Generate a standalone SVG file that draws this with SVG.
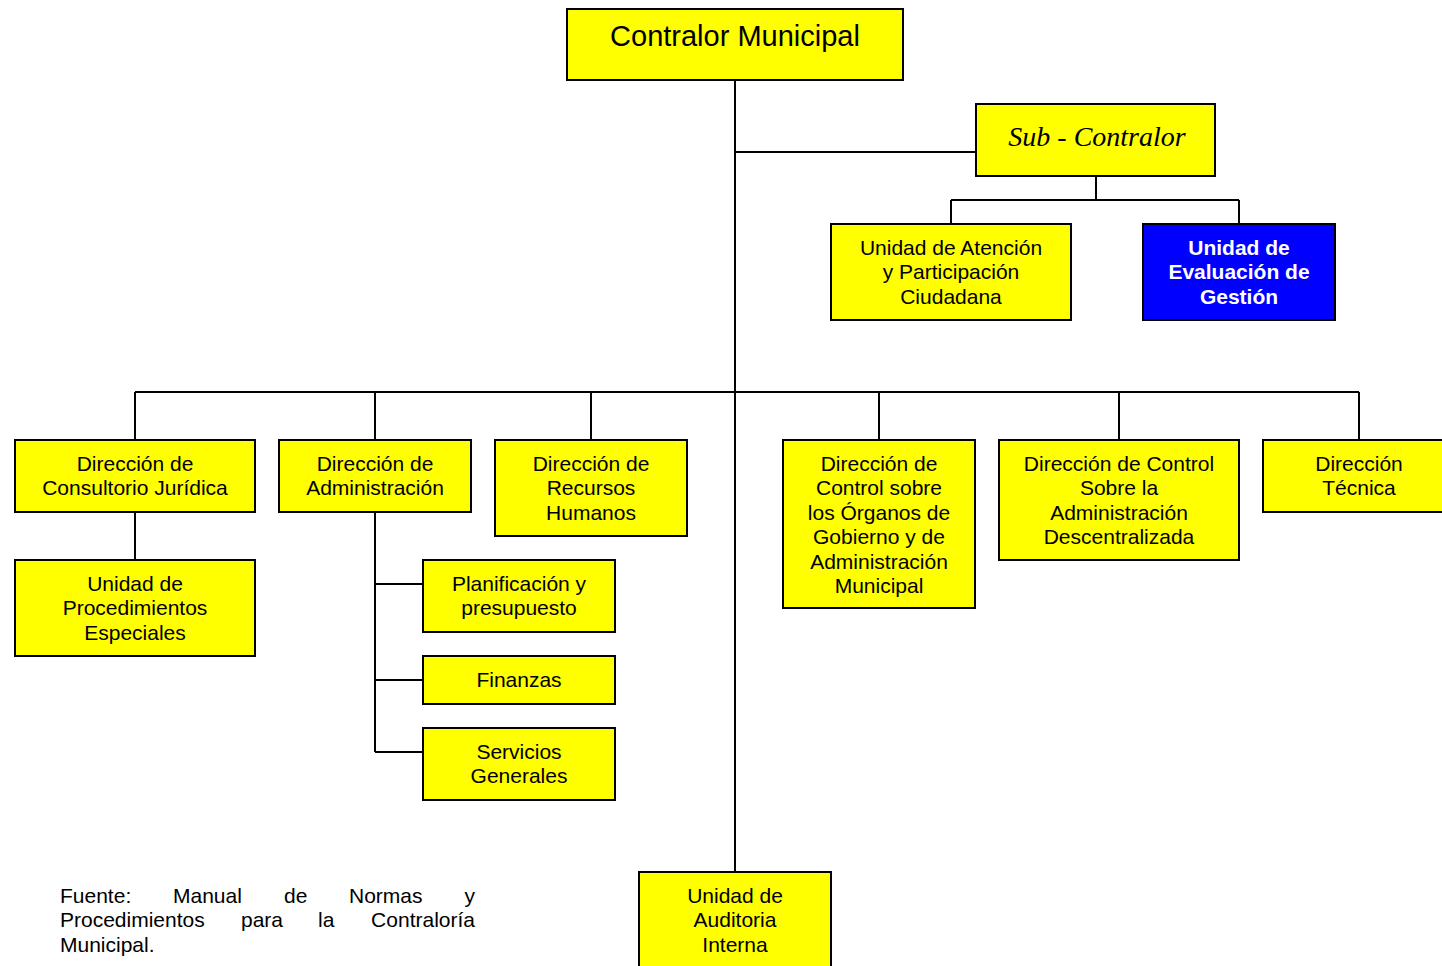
<svg xmlns="http://www.w3.org/2000/svg" width="1442" height="966" viewBox="0 0 1442 966">
<style>
.box{fill:#FFFF00;stroke:#000;stroke-width:2}
.blue{fill:#0000FF;stroke:#000;stroke-width:2}
.t{font-family:"Liberation Sans",Arial,sans-serif;font-size:21px;fill:#000;text-anchor:middle}
.w{font-family:"Liberation Sans",Arial,sans-serif;font-size:21px;font-weight:bold;fill:#fff;text-anchor:middle}
.f{font-family:"Liberation Sans",Arial,sans-serif;font-size:21px;fill:#000}
.c{fill:none;stroke:#000;stroke-width:2}
</style>
<rect width="1442" height="966" fill="#fff"/>
<g id="connectors">
<path class="c" d="M735 80V872"/>
<path class="c" d="M735 152H976"/>
<path class="c" d="M1096 176V200M951 200H1239M951 200V224M1239 200V224"/>
<path class="c" d="M135 392H1359M135 392V440M375 392V440M591 392V440M879 392V440M1119 392V440M1359 392V440"/>
<path class="c" d="M135 512V560"/>
<path class="c" d="M375 512V752M375 584H423M375 680H423M375 752H423"/>
</g>
<g id="contralor">
<rect class="box" x="567" y="9" width="336" height="71"/>
<text x="735" y="46" font-family="'Liberation Sans',Arial,sans-serif" font-size="29" text-anchor="middle">Contralor Municipal</text>
</g>
<g id="subcontralor">
<rect class="box" x="976" y="104" width="239" height="72"/>
<text x="1097" y="146" font-family="'Liberation Serif','Times New Roman',serif" font-style="italic" font-size="28" text-anchor="middle">Sub - Contralor</text>
</g>
<g id="atencion">
<rect class="box" x="831" y="224" width="240" height="96"/>
<text class="t" x="951" y="255">Unidad de Atención</text>
<text class="t" x="951" y="279">y Participación</text>
<text class="t" x="951" y="304">Ciudadana</text>
</g>
<g id="evaluacion">
<rect class="blue" x="1143" y="224" width="192" height="96"/>
<text class="w" x="1239" y="255">Unidad de</text>
<text class="w" x="1239" y="279">Evaluación de</text>
<text class="w" x="1239" y="304">Gestión</text>
</g>
<g id="juridica">
<rect class="box" x="15" y="440" width="240" height="72"/>
<text class="t" x="135" y="471">Dirección de</text>
<text class="t" x="135" y="495">Consultorio Jurídica</text>
</g>
<g id="administracion">
<rect class="box" x="279" y="440" width="192" height="72"/>
<text class="t" x="375" y="471">Dirección de</text>
<text class="t" x="375" y="495">Administración</text>
</g>
<g id="rrhh">
<rect class="box" x="495" y="440" width="192" height="96"/>
<text class="t" x="591" y="471">Dirección de</text>
<text class="t" x="591" y="495">Recursos</text>
<text class="t" x="591" y="520">Humanos</text>
</g>
<g id="organos">
<rect class="box" x="783" y="440" width="192" height="168"/>
<text class="t" x="879" y="471">Dirección de</text>
<text class="t" x="879" y="495">Control sobre</text>
<text class="t" x="879" y="520">los Órganos de</text>
<text class="t" x="879" y="544">Gobierno y de</text>
<text class="t" x="879" y="569">Administración</text>
<text class="t" x="879" y="593">Municipal</text>
</g>
<g id="descentralizada">
<rect class="box" x="999" y="440" width="240" height="120"/>
<text class="t" x="1119" y="471">Dirección de Control</text>
<text class="t" x="1119" y="495">Sobre la</text>
<text class="t" x="1119" y="520">Administración</text>
<text class="t" x="1119" y="544">Descentralizada</text>
</g>
<g id="tecnica">
<rect class="box" x="1263" y="440" width="240" height="72"/>
<text class="t" x="1359" y="471">Dirección</text>
<text class="t" x="1359" y="495">Técnica</text>
</g>
<g id="procedimientos">
<rect class="box" x="15" y="560" width="240" height="96"/>
<text class="t" x="135" y="591">Unidad de</text>
<text class="t" x="135" y="615">Procedimientos</text>
<text class="t" x="135" y="640">Especiales</text>
</g>
<g id="planificacion">
<rect class="box" x="423" y="560" width="192" height="72"/>
<text class="t" x="519" y="591">Planificación y</text>
<text class="t" x="519" y="615">presupuesto</text>
</g>
<g id="finanzas">
<rect class="box" x="423" y="656" width="192" height="48"/>
<text class="t" x="519" y="687">Finanzas</text>
</g>
<g id="servicios">
<rect class="box" x="423" y="728" width="192" height="72"/>
<text class="t" x="519" y="759">Servicios</text>
<text class="t" x="519" y="783">Generales</text>
</g>
<g id="auditoria">
<rect class="box" x="639" y="872" width="192" height="110"/>
<text class="t" x="735" y="903">Unidad de</text>
<text class="t" x="735" y="927">Auditoria</text>
<text class="t" x="735" y="952">Interna</text>
</g>
<g id="fuente">
<text class="f" x="60" y="903">Fuente:</text>
<text class="f" x="173" y="903">Manual</text>
<text class="f" x="284" y="903">de</text>
<text class="f" x="349" y="903">Normas</text>
<text class="f" x="475" y="903" text-anchor="end">y</text>
<text class="f" x="60" y="927">Procedimientos</text>
<text class="f" x="241" y="927">para</text>
<text class="f" x="318" y="927">la</text>
<text class="f" x="475" y="927" text-anchor="end">Contraloría</text>
<text class="f" x="60" y="952">Municipal.</text>
</g>
</svg>
